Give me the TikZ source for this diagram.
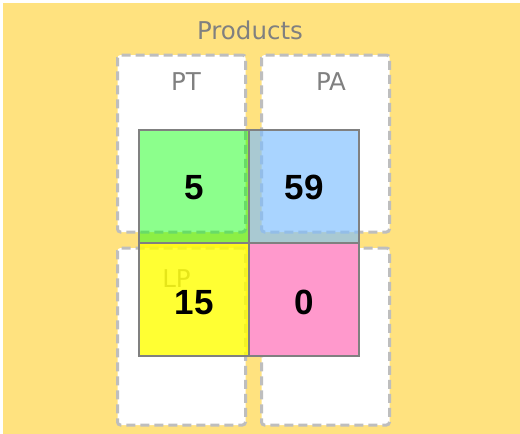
\documentclass[tikz,border=0pt]{standalone}
\usepackage{fontspec}
\setmainfont{Liberation Sans}
\newfontfamily\labelfont{DejaVu Sans}
\definecolor{bgyellow}{RGB}{255,226,127}
\definecolor{dashgray}{RGB}{190,190,190}
\definecolor{labelgray}{RGB}{128,128,128}
\definecolor{cellgray}{RGB}{128,128,128}
\definecolor{cgreen}{RGB}{0,255,0}
\definecolor{cblue}{RGB}{124,189,255}
\definecolor{cyellow}{RGB}{255,255,0}
\definecolor{cpink}{RGB}{255,153,204}
\tikzset{
  groupbox/.style={draw=dashgray, fill=white, line width=3pt, dash pattern=on 9pt off 5pt,
    rounded corners=3pt, minimum width=128pt, minimum height=177pt, inner sep=0pt, outer sep=0pt},
  grouplabel/.style={text=labelgray, font=\labelfont\fontsize{24.5}{28}\selectfont, anchor=base, inner sep=0pt},
  cell/.style={draw=cellgray, line width=1.8pt, minimum width=110pt, minimum height=113pt,
    inner sep=0pt, outer sep=0pt},
  cellnum/.style={font=\bfseries\fontsize{35}{40}\selectfont, anchor=base, inner sep=0pt, text=black}
}
\begin{document}
\begin{tikzpicture}[x=1pt,y=-1pt]
\useasboundingbox (0,0) rectangle (520,434);
\fill[bgyellow] (3,3) rectangle (520,434);
\node[grouplabel] (products) at (250,39.3) {Products};
\node[groupbox] (boxPT) at (181.5,143.5) {};
\node[groupbox] (boxPA) at (325.5,143.5) {};
\node[groupbox] (boxLP) at (181.5,336.5) {};
\node[groupbox] (boxX) at (325.5,336.5) {};
\node[grouplabel] (lblPT) at (186,90) {PT};
\node[grouplabel] (lblPA) at (331,90) {PA};
\node[grouplabel] (lblLP) at (176.5,287) {LP};
\node[cell, fill=cgreen, fill opacity=0.45] (c11) at (194.3,186.65) {};
\node[cell, fill=cblue, fill opacity=0.65] (c12) at (304.3,186.65) {};
\node[cell, fill=cyellow, fill opacity=0.8] (c21) at (194.3,299.65) {};
\node[cell, fill=cpink] (c22) at (304.3,299.65) {};
\node[cellnum] (n11) at (194.3,199.5) {5};
\node[cellnum] (n12) at (304.3,199.5) {59};
\node[cellnum] (n21) at (194.3,314) {15};
\node[cellnum] (n22) at (304.3,314) {0};
\end{tikzpicture}
\end{document}
